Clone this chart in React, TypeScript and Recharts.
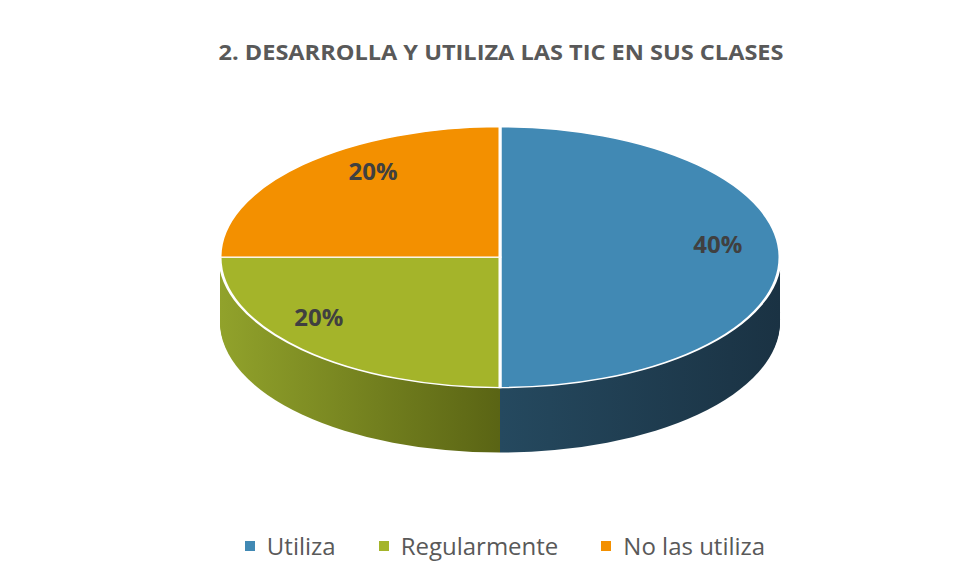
import React from "react";
import { PieChart, Pie, Cell } from "recharts";

const categories = ["Utiliza", "Regularmente", "No las utiliza"];
const values = [0.4, 0.2, 0.2];
const topColors = ["#4189B4", "#A4B42A", "#F39000"];
const sideFrom = ["#25495F", "#91A22B", "#C87400"];
const sideTo = ["#1A3243", "#5A6414", "#8A5000"];

const title = "2. DESARROLLA Y UTILIZA LAS TIC EN SUS CLASES";

const data = categories.map((name, i) => ({ name, value: values[i] }));

// squash factor used to turn the round pie into a tilted ellipse
const K = 0.466;
const DEPTH = 65 / K;
const RADIUS = 280;
const CX = 300;
const CY = 290;
const STEP = 3;
const layers: number[] = [];
for (let d = DEPTH; d > 0; d -= STEP) layers.push(d);

const RAD = Math.PI / 180;

const renderLabel = (props: any) => {
  const { cx, cy, midAngle, value } = props;
  const r = RADIUS * 0.79;
  // excel nudges the labels a little clockwise on the tilted pie
  const x = cx + r * Math.cos(-(midAngle - 10) * RAD);
  const y = cy + r * Math.sin(-midAngle * RAD) - 14 / K;
  return (
    <text
      x={x}
      y={y}
      textAnchor="middle"
      dominantBaseline="central"
      transform={`translate(${x} ${y}) scale(1 ${1 / K}) translate(${-x} ${-y})`}
      fill="#404040"
      fontSize={24}
      fontWeight="bold"
      fontFamily="'Open Sans', sans-serif"
    >
      {`${Math.round(value * 100)}%`}
    </text>
  );
};

export default function App() {
  return (
    <div
      style={{
        position: "relative",
        width: 968,
        height: 575,
        borderLeft: "2px solid #dcdcdc",
        borderTop: "2px solid #dcdcdc",
        boxSizing: "border-box",
        background: "#fff",
        marginLeft: -2,
        marginTop: -2,
      }}
    >
      <svg width={968} height={80} style={{ position: "absolute", left: 0, top: 0 }}>
        <text
          x={493}
          y={52}
          textAnchor="middle"
          textLength={565}
          lengthAdjust="spacingAndGlyphs"
          fill="#595959"
          fontSize={22}
          fontWeight="bold"
          fontFamily="'Open Sans', sans-serif"
        >
          {title}
        </text>
      </svg>

      <div
        style={{
          position: "absolute",
          left: 192,
          top: 114,
          width: 600,
          height: 712,
          transform: `scaleY(${K})`,
          transformOrigin: "top left",
        }}
      >
        <PieChart width={600} height={712} margin={{ top: 0, right: 0, bottom: 0, left: 0 }}>
          <defs>
            {categories.map((c, i) => (
              <linearGradient key={c} id={`side${i}`} x1="0" y1="0" x2="1" y2="0">
                <stop offset="0%" stopColor={sideFrom[i]} />
                <stop offset="100%" stopColor={sideTo[i]} />
              </linearGradient>
            ))}
          </defs>
          {layers.map((d) => (
            <Pie
              key={`layer-${d}`}
              data={data}
              dataKey="value"
              nameKey="name"
              cx={CX}
              cy={CY + d}
              outerRadius={RADIUS}
              startAngle={90}
              endAngle={-270}
              stroke="none"
              isAnimationActive={false}
            >
              {data.map((entry, i) => (
                <Cell key={entry.name} fill={`url(#side${i})`} />
              ))}
            </Pie>
          ))}
          <Pie
            data={data}
            dataKey="value"
            nameKey="name"
            cx={CX}
            cy={CY}
            outerRadius={RADIUS}
            startAngle={90}
            endAngle={-270}
            stroke="#ffffff"
            strokeWidth={3}
            label={renderLabel}
            labelLine={false}
            isAnimationActive={false}
          >
            {data.map((entry, i) => (
              <Cell key={entry.name} fill={topColors[i]} />
            ))}
          </Pie>
        </PieChart>
      </div>

      <div
        style={{
          position: "absolute",
          left: 0,
          width: 994,
          top: 521,
          display: "flex",
          justifyContent: "center",
          gap: 43,
          fontFamily: "'Open Sans', sans-serif",
          fontSize: 24,
          color: "#595959",
        }}
      >
        {categories.map((c, i) => (
          <div key={c} style={{ display: "flex", alignItems: "center" }}>
            <span
              style={{
                display: "inline-block",
                width: 10,
                height: 10,
                background: topColors[i],
                marginRight: 12,
              }}
            />
            <span>{c}</span>
          </div>
        ))}
      </div>
    </div>
  );
}
